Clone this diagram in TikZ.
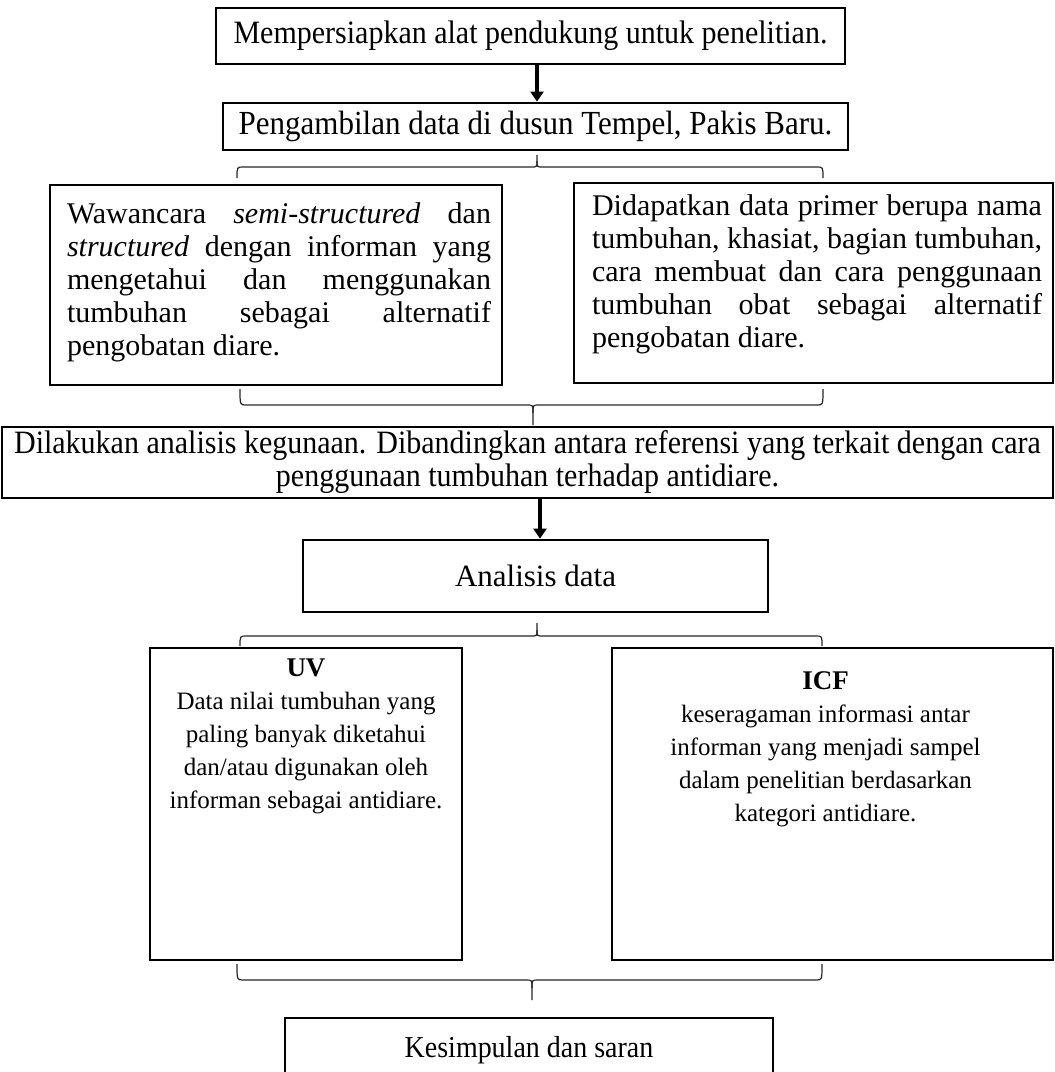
\documentclass[tikz,border=0pt]{standalone}
\usepackage{fontspec}
\setmainfont{Liberation Serif}
\newfontfamily\condfont[FakeStretch=0.92]{Liberation Serif}
\usetikzlibrary{arrows.meta}
\begin{document}
\begin{tikzpicture}[x=1pt,y=-1pt,
  box/.style={draw=black, line width=2.8pt, inner sep=0pt},
  flow/.style={line width=4.6pt, -{Triangle[width=13pt,length=10pt]}},
  brace/.style={draw=black!85, line width=1.2pt},
]
\useasboundingbox (0,0) rectangle (1055,1072);
\clip (0,0) rectangle (1055,1072);
\hyphenpenalty=10000

\node[box, minimum width=629, minimum height=56] (b1) at (530.5,36)
  {\condfont\fontsize{32.6}{36}\selectfont Mempersiapkan alat pendukung untuk penelitian.};
\node[box, minimum width=625, minimum height=47] (b2) at (535.5,126.5)
  {\condfont\fontsize{33.7}{36}\selectfont Pengambilan data di dusun Tempel, Pakis Baru.};

\node[box, minimum width=452, minimum height=200] (b3) at (276,285)
  {\hspace*{6pt}\parbox[c][164pt][t]{424pt}{\fontsize{30}{33}\selectfont
   Wawancara \textit{semi-structured} dan\linebreak
   \textit{structured} dengan informan yang\linebreak
   mengetahui dan menggunakan\linebreak
   tumbuhan sebagai alternatif\linebreak
   pengobatan diare.}};
\node[box, minimum width=479, minimum height=200] (b4) at (813.5,283)
  {\hspace*{7pt}\parbox[c][176pt][t]{450pt}{\fontsize{30}{33}\selectfont
   Didapatkan data primer berupa nama\linebreak
   tumbuhan, khasiat, bagian tumbuhan,\linebreak
   cara membuat dan cara penggunaan\linebreak
   tumbuhan obat sebagai alternatif\linebreak
   pengobatan diare.}};

\node[box, minimum width=1051, minimum height=71] (b5) at (527.5,462.5)
  {\parbox{1050pt}{\centering\condfont\fontsize{32.6}{33}\selectfont
   Dilakukan analisis kegunaan. Dibandingkan antara referensi yang terkait dengan cara\\
   penggunaan tumbuhan terhadap antidiare.}};

\node[box, minimum width=465, minimum height=72] (b6) at (535.5,576)
  {\fontsize{31}{36}\selectfont Analisis data};

\node[box, minimum width=312, minimum height=312] (b7) at (306,804)
  {\parbox[c][290pt][t]{300pt}{\centering
   \fontsize{27}{33}\selectfont\textbf{UV}\\
   \fontsize{25}{33}\selectfont Data nilai tumbuhan yang\\
   paling banyak diketahui\\
   dan/atau digunakan oleh\\
   informan sebagai antidiare.}};
\node[box, minimum width=441, minimum height=312] (b8) at (832.5,804)
  {\hspace*{-14pt}\parbox[c][264pt][t]{420pt}{\centering
   \fontsize{27}{33}\selectfont\textbf{ICF}\\
   \fontsize{25}{33}\selectfont keseragaman informasi antar\\
   informan yang menjadi sampel\\
   dalam penelitian berdasarkan\\
   kategori antidiare.}};

\node[box, minimum width=488, minimum height=64] (b9) at (529,1050)
  {\condfont\fontsize{30.4}{32}\selectfont Kesimpulan dan saran};

% arrows
\draw[flow] ([xshift=6.5pt]b1.south) -- ([xshift=1.5pt]b2.north);
\draw[flow] ([xshift=12.5pt]b5.south) -- ([xshift=4.5pt]b6.north);

% brace 1 (tip up, under b2)
\coordinate (t1) at (537,155);
\draw[brace] (237,178) .. controls (237,167) .. (243,167) -- (531,167)
  .. controls (537,167) .. (537,161) -- (t1);
\draw[brace] (537,161) .. controls (537,167) .. (543,167) -- (817,167)
  .. controls (823,167) .. (823,178);

% brace 2 (tip down, above b5)
\coordinate (t2) at (533,425);
\draw[brace] (240,389) .. controls (240,405) .. (246,405) -- (527,405)
  .. controls (533,405) .. (533,413) -- (t2);
\draw[brace] (533,413) .. controls (533,405) .. (539,405) -- (817,405)
  .. controls (823,405) .. (823,389);

% brace 3 (tip up, under b6)
\coordinate (t3) at (537,623);
\draw[brace] (240,646) .. controls (240,636) .. (246,636) -- (531,636)
  .. controls (537,636) .. (537,630) -- (t3);
\draw[brace] (537,630) .. controls (537,636) .. (543,636) -- (816,636)
  .. controls (822,636) .. (822,646);

% brace 4 (tip down, above b9)
\coordinate (t4) at (532,1000);
\draw[brace] (237,964) .. controls (237,980) .. (243,980) -- (526,980)
  .. controls (532,980) .. (532,988) -- (t4);
\draw[brace] (532,988) .. controls (532,980) .. (538,980) -- (816,980)
  .. controls (822,980) .. (822,964);
\end{tikzpicture}
\end{document}
